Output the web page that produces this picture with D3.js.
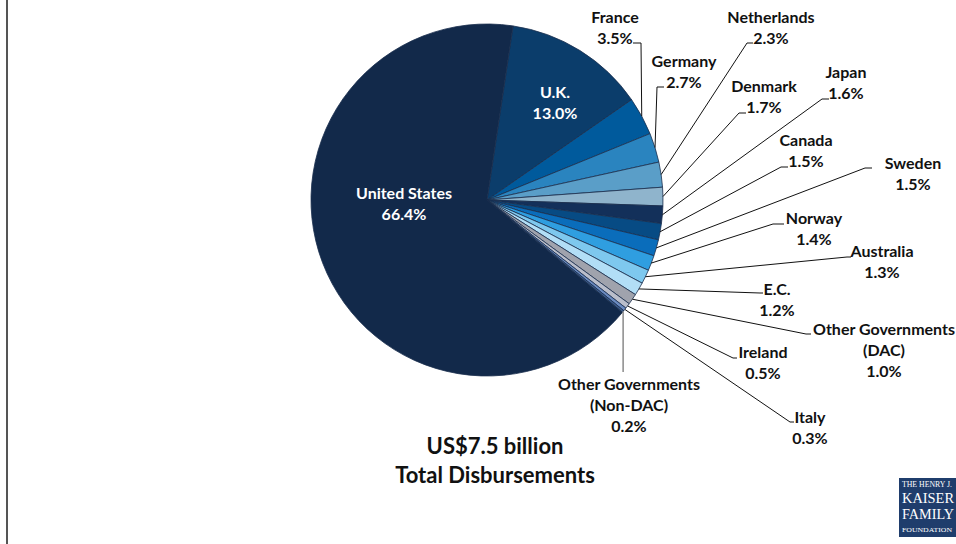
<!DOCTYPE html>
<html>
<head>
<meta charset="utf-8">
<script src="https://d3js.org/d3.v7.min.js"></script>
<style>
  body { margin: 0; background: #fff; }
  text { font-family: Lato, "Open Sans", sans-serif; font-weight: bold; }
</style>
</head>
<body>
<script>
// donors, clockwise from the U.K. slice; the U.S. closes the circle
var donors = ["U.K.", "France", "Germany", "Netherlands", "Denmark", "Japan", "Canada",
  "Sweden", "Norway", "Australia", "E.C.", "Other Governments\n(DAC)", "Ireland", "Italy",
  "Other Governments\n(Non-DAC)", "United States"];
var shares = [13.0, 3.5, 2.7, 2.3, 1.7, 1.6, 1.5, 1.5, 1.4, 1.3, 1.2, 1.0, 0.5, 0.3, 0.2, 66.4];
var colors = ["#0b3d6b", "#005a9c", "#2a84bf", "#5a9ec8", "#8fb4cc", "#13305a", "#074b84",
  "#0a6dbb", "#2f9ee0", "#7ec8ee", "#b2def6", "#a0a3ad", "#babecb", "#6a8ac0", "#3a5a8a", "#12294a"];
var totalLines = ["US$7.5 billion", "Total Disbursements"];

var width = 956, height = 544;
var cx = 487, cy = 200, r = 176;

// label placement: text centre x, first baseline y, leader elbow and leader end
var labelLayout = [
  {x: 555, y: 98,  inside: true},
  {x: 615, y: 23,  elbow: [641, 43],  end: [633, 43]},
  {x: 684, y: 67,  elbow: [657, 87],  end: [664, 87]},
  {x: 771, y: 23,  elbow: [747, 43],  end: [753, 43]},
  {x: 764, y: 92,  elbow: [739, 113], end: [746, 113]},
  {x: 846, y: 78,  elbow: [822, 99],  end: [829, 99]},
  {x: 806, y: 146, elbow: [781, 167], end: [788, 167]},
  {x: 913, y: 169, elbow: [865, 168], end: [872, 168]},
  {x: 814, y: 224, elbow: [773, 224], end: [784, 224]},
  {x: 882, y: 257, elbow: [847, 257], end: [851, 257]},
  {x: 777, y: 295, elbow: [760, 293], end: [763, 293]},
  {x: 884, y: 335, elbow: [806, 334], end: [811, 334]},
  {x: 763, y: 358, elbow: [733, 358], end: [737, 358]},
  {x: 810, y: 423, elbow: [790, 422], end: [794, 422]},
  {x: 629, y: 390, vertical: 372, grey: true},
  {x: 404, y: 199, inside: true}
];

var data = donors.map(function (d, i) {
  return {name: d, value: shares[i], color: colors[i], layout: labelLayout[i]};
});

var svg = d3.select("body").append("svg")
  .attr("width", width).attr("height", height);

// left frame rule
svg.append("line")
  .attr("x1", 7).attr("x2", 7).attr("y1", 0).attr("y2", height)
  .attr("stroke", "#555").attr("stroke-width", 2);

var start = 8.5 * Math.PI / 180;
var pie = d3.pie().sort(null).value(function (d) { return d.value; })
  .startAngle(start).endAngle(start + 2 * Math.PI);
var arcs = pie(data);

var arc = d3.arc().innerRadius(0).outerRadius(r);
var edge = d3.arc().innerRadius(r).outerRadius(r);

var g = svg.append("g").attr("transform", "translate(" + cx + "," + cy + ")");

g.selectAll("path.slice")
  .data(arcs)
  .enter().append("path")
  .attr("class", "slice")
  .attr("d", arc)
  .attr("fill", function (d) { return d.data.color; })
  .attr("stroke", "#1b2e4e")
  .attr("stroke-width", 0.8);

var fmt = d3.format(".1f");

// leader lines
var leaders = svg.append("g");
arcs.forEach(function (d) {
  var L = d.data.layout;
  if (L.inside) return;
  var p = edge.centroid(d);
  var pts = [[cx + p[0], cy + p[1]]];
  if (L.vertical) pts.push([cx + p[0], L.vertical]);
  else { pts.push(L.elbow); pts.push(L.end); }
  leaders.append("path")
    .attr("d", d3.line()(pts))
    .attr("fill", "none")
    .attr("stroke", L.grey ? "#8a8a8a" : "#111")
    .attr("stroke-width", L.grey ? 1.5 : 1);
});

// labels
var labels = svg.append("g");
arcs.forEach(function (d) {
  var L = d.data.layout;
  var lines = d.data.name.split("\n").concat([fmt(d.data.value) + "%"]);
  var t = labels.append("text")
    .attr("text-anchor", "middle")
    .attr("font-size", 16)
    .attr("fill", L.inside ? "#fff" : "#111");
  lines.forEach(function (s, i) {
    t.append("tspan").attr("x", L.x).attr("y", L.y + i * 21).text(s);
  });
});

// total
svg.append("text")
  .attr("text-anchor", "middle")
  .attr("font-size", 22)
  .attr("fill", "#111")
  .selectAll("tspan").data(totalLines).enter().append("tspan")
  .attr("x", 495).attr("y", function (d, i) { return 454 + i * 29; })
  .text(function (d) { return d; });

// foundation mark
var logo = svg.append("g").attr("transform", "translate(899,478)");
logo.append("rect").attr("width", 57).attr("height", 59).attr("fill", "#1f3d6c");
var serif = "'Liberation Serif', 'DejaVu Serif', serif";
[["THE HENRY J.", 9, 8, 50], ["KAISER", 25, 15, 52], ["FAMILY", 41, 15, 52], ["FOUNDATION", 54, 7, 50]].forEach(function (s) {
  logo.append("text").attr("x", 3).attr("y", s[1])
    .attr("font-size", s[2]).attr("fill", "#fff")
    .attr("textLength", s[3]).attr("lengthAdjust", "spacingAndGlyphs")
    .style("font-family", serif).style("font-weight", "normal")
    .text(s[0]);
});
</script>
</body>
</html>
